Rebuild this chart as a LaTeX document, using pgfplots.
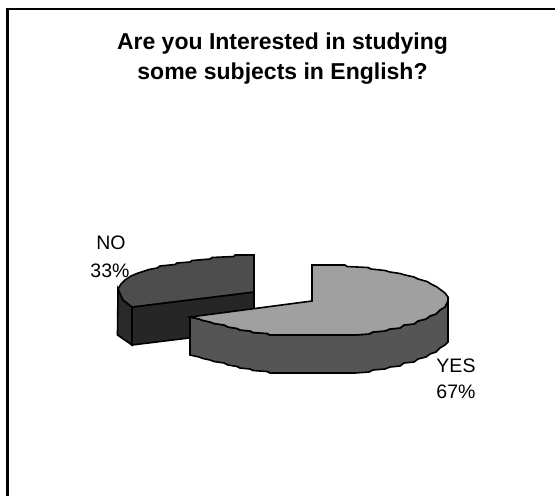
\documentclass[border=0pt]{standalone}
\usepackage{pgfplots}
\pgfplotsset{compat=1.18}
\usepackage{fontspec}
\setmainfont{Liberation Sans}
\definecolor{yesTop}{HTML}{A0A0A0}
\definecolor{yesSide}{HTML}{555555}
\definecolor{noTop}{HTML}{4D4D4D}
\definecolor{noSide}{HTML}{2A2A2A}
\definecolor{noCut}{HTML}{262626}
\begin{document}
\begin{tikzpicture}
\begin{axis}[
  at={(0,0)}, anchor=south west,
  scale only axis, width=555pt, height=496pt,
  xmin=0, xmax=555, ymin=0, ymax=496, y dir=reverse,
  hide axis,
  every axis plot/.append style={no markers, line join=miter, draw=black, line width=1.6pt},
]
% page outline: top and left rules only
\addplot[fill=white, draw=none] coordinates {(0,0) (555,0) (555,496) (0,496)} -- cycle;
\addplot[line width=2.2pt] coordinates {(7.5,496) (7.5,9) (555,9)};

% NO slice: outer wall, cut wall, top face
\addplot[fill=noSide] coordinates {(118,289) (123,300) (132,307) (132,345) (117.5,335)} -- cycle;
\addplot[fill=noCut] coordinates {(132,307) (254,292) (254,330) (132,345)} -- cycle;
\addplot[fill=noTop] coordinates {(254,255) (235,255) (234,256.5) (212,257.5) (210,259) (192,260.5) (190,262)
  (177,263) (175,264.5) (160,266) (157,268) (149,269.5) (143,271.5) (137,273.5) (131,276) (125,280) (121,284)
  (118,289) (123,300) (132,307) (254,292)} -- cycle;

% YES slice: curved wall, top face
\addplot[fill=yesSide] coordinates {(190,317) (199,319) (203,320.5) (210,322) (214,323.5) (224,325) (228,327)
  (237,328.5) (240,330) (250,331) (253,332.5) (267,333.5) (270,335) (355,335) (369,334) (373,332) (385,331)
  (390,329) (400,328) (404,325) (414,324) (418,321) (426,319) (430,316) (436,314) (440,310) (445,307) (448,301)
  (448,342) (445,345) (440,348) (436,352) (430,354) (426,357) (418,359) (414,362) (404,363) (400,366) (390,367)
  (385,369) (373,370) (369,372) (355,373) (270,373) (267,371.5) (253,370.5) (250,369) (240,368) (237,366.5)
  (228,365) (224,363) (214,361.5) (210,360) (203,358.5) (199,357) (190,355)} -- cycle;
\addplot[fill=yesTop] coordinates {(312,301) (312,265) (345,265) (347,266.5) (368,267.5) (371,269) (385,270.5)
  (390,272) (400,273.5) (405,275) (414,277) (418,279) (427,281.5) (431,284) (437,287) (441,290) (445,293)
  (448,297) (448,301) (445,307) (440,310) (436,314) (430,316) (426,319) (418,321) (414,324) (404,325) (400,328)
  (390,329) (385,331) (373,332) (369,334) (355,335) (270,335) (267,333.5) (253,332.5) (250,331) (240,330)
  (237,328.5) (228,327) (224,325) (214,323.5) (210,322) (203,320.5) (199,319) (190,317)} -- cycle;

\node[font=\fontsize{23}{23}\selectfont\bfseries, anchor=base] at (axis cs:282.5,49) {Are you Interested in studying};
\node[font=\fontsize{23}{23}\selectfont\bfseries, anchor=base] at (axis cs:282.5,79) {some subjects in English?};
\node[font=\fontsize{19.5}{19.5}\selectfont, anchor=base] at (axis cs:111,249) {NO};
\node[font=\fontsize{19.5}{19.5}\selectfont, anchor=base] at (axis cs:110,277) {33\%};
\node[font=\fontsize{19.5}{19.5}\selectfont, anchor=base] at (axis cs:456,372) {YES};
\node[font=\fontsize{19.5}{19.5}\selectfont, anchor=base] at (axis cs:456,398) {67\%};
\end{axis}
\end{tikzpicture}
\end{document}
